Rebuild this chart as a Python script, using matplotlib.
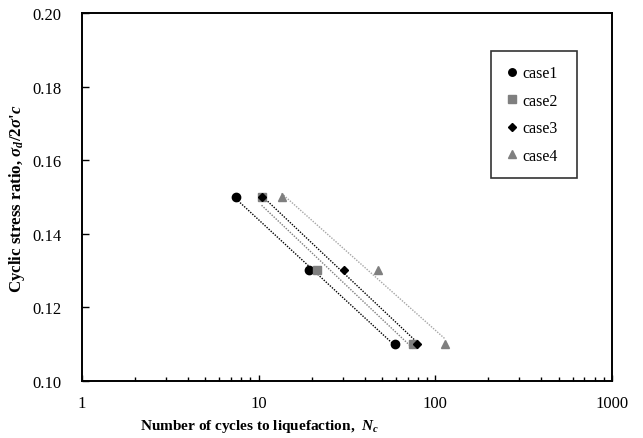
import numpy as np
import matplotlib
matplotlib.use("Agg")
import matplotlib.pyplot as plt
from matplotlib.lines import Line2D

plt.rcParams['font.family'] = ['Liberation Serif', 'DejaVu Serif']
plt.rcParams['mathtext.fontset'] = 'custom'
plt.rcParams['mathtext.rm'] = 'Liberation Serif:bold'
plt.rcParams['mathtext.it'] = 'Liberation Serif:italic:bold'
plt.rcParams['mathtext.bf'] = 'Liberation Serif:bold'

cases = ["case1", "case2", "case3", "case4"]
csr = [0.15, 0.13, 0.11]
n_case1 = [7.45, 19.4, 59.2]
n_case2 = [10.4, 21.3, 75.2]
n_case3 = [10.4, 30.4, 79.2]
n_case4 = [13.5, 47.2, 114.0]
series = [n_case1, n_case2, n_case3, n_case4]

markers = ['o', 's', 'D', '^']
msizes = [6, 6, 4.5, 6]
mcolors = ['black', '#7f7f7f', 'black', '#7f7f7f']
lcolors = ['black', '#7f7f7f', 'black', '#a6a6a6']

fig = plt.figure(figsize=(6.43, 4.39), dpi=100)
ax = fig.add_axes([82/643, 1-381.7/439, 529.7/643, 367.7/439])

for n, m, ms, mc, lc in zip(series, markers, msizes, mcolors, lcolors):
    x = np.array(n)
    y = np.array(csr)
    ax.plot(x, y, linestyle='none', marker=m, markersize=ms, color=mc,
            markeredgecolor=mc, zorder=3)
    k, b = np.polyfit(np.log10(x), y, 1)
    xs = np.array([x.min(), x.max()])
    ax.plot(xs, k*np.log10(xs)+b, linestyle=(0, (1, 1)), color=lc, lw=1.0, zorder=2)

ax.set_xscale('log')
ax.set_xlim(1, 1000)
ax.set_ylim(0.10, 0.20)
yt = [0.10, 0.12, 0.14, 0.16, 0.18, 0.20]
ax.set_yticks(yt)
ax.set_yticklabels(["%.2f" % v for v in yt])
ax.set_xticks([1, 10, 100, 1000])
ax.set_xticklabels(["1", "10", "100", "1000"])

for s in ax.spines.values():
    s.set_linewidth(1.4)
ax.tick_params(axis='both', which='both', direction='in', top=False, right=False,
               labelsize=12, width=1)
ax.tick_params(axis='x', which='major', length=4, pad=10.5)
ax.tick_params(axis='x', which='minor', length=3)
ax.tick_params(axis='y', which='major', length=5, pad=14.5)

ax.set_xlabel(r"Number of cycles to liquefaction,  $N_c$", fontsize=11, fontweight='bold')
ax.xaxis.set_label_coords(0.336, -0.1)
ax.xaxis.label.set_ha('center')
ax.xaxis.label.set_va('top')
ax.set_ylabel(r"Cyclic stress ratio, $\sigma_d/2\sigma$'$c$", fontsize=12.2, fontweight='bold')
ax.yaxis.set_label_coords(-0.104, 0.497)

handles = [Line2D([], [], linestyle='none', marker=m, markersize=ms*0.9, color=mc)
           for m, ms, mc in zip(markers, msizes, mcolors)]
leg = ax.legend(handles, cases, loc='upper left', bbox_to_anchor=(0.772, 0.8967, 0.1625, 0.0),
                mode='expand',
                frameon=True, fancybox=False, edgecolor='black', fontsize=11.5,
                labelspacing=0.72, handlelength=0.8, handletextpad=0.3,
                borderpad=0.9, borderaxespad=0)
leg.get_frame().set_linewidth(1.2)

fig.savefig("out.png", dpi=100)
